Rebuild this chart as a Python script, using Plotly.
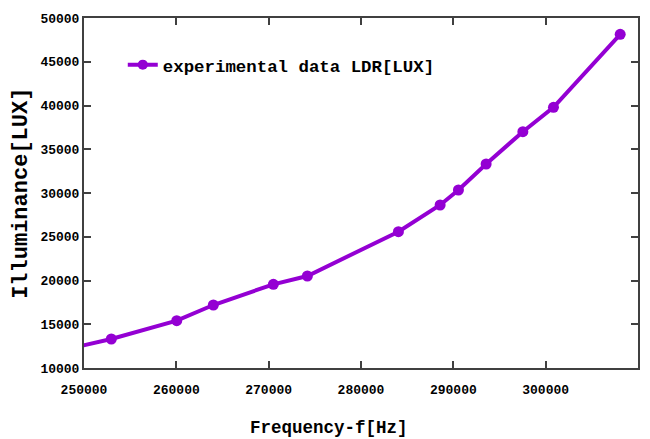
import plotly.graph_objects as go

freq = [247000, 252958, 260043, 264009, 270509, 274193, 284052, 288570, 290553, 293554, 297530, 300845, 308072]
lux = [11880, 13314, 15406, 17200, 19566, 20514, 25577, 28629, 30343, 33314, 37006, 39794, 48137]
marker_visible = [False] + [True] * 12

xticks = [250000, 260000, 270000, 280000, 290000, 300000, 310000]
yticks = [10000, 15000, 20000, 25000, 30000, 35000, 40000, 45000, 50000]

color = "#9400D3"
font_mono = "Liberation Mono"

fig = go.Figure()
fig.add_trace(go.Scatter(
    x=freq, y=lux, mode="lines+markers",
    name="experimental data LDR[LUX]",
    line=dict(color=color, width=4),
    marker=dict(color=color, opacity=1, line=dict(width=0),
                size=[11 if v else 0 for v in marker_visible]),
    cliponaxis=True,
))

axis_common = dict(
    showgrid=False, zeroline=False, mirror="ticks", showline=True,
    linecolor="#404040", linewidth=2, ticks="inside", ticklen=7,
    tickcolor="#404040", tickwidth=1.5, automargin=False,
    tickfont=dict(family=font_mono, size=13, color="black", weight="bold"),
)

# page body has an 8px default margin; figure sized to fit the 650x439 window
fig.update_layout(
    width=642, height=431,
    margin=dict(l=76, r=12, t=10, b=71),
    paper_bgcolor="white", plot_bgcolor="white",
    xaxis=dict(range=[250000, 310000], tickvals=xticks, ticktext=[str(v) for v in xticks],
               ticklabelstandoff=8, **axis_common),
    yaxis=dict(range=[10000, 50000], tickvals=yticks, ticktext=[str(v) for v in yticks],
               ticklabelstandoff=0, **axis_common),
    showlegend=True,
    legend=dict(x=0.07, y=0.866, xanchor="left", yanchor="middle",
                bgcolor="rgba(0,0,0,0)",
                font=dict(family=font_mono, size=17.4, color="black", weight="bold")),
    annotations=[
        dict(text="Frequency-f[Hz]", x=(321 - 76) / 554, xref="paper", y=-0.171, yref="paper",
             showarrow=False, xanchor="center", yanchor="middle",
             font=dict(family=font_mono, size=17.5, color="black", weight="bold")),
        dict(text="Illuminance[LUX]", x=-0.114, xref="paper", y=0.50, yref="paper",
             showarrow=False, textangle=-90, xanchor="center", yanchor="middle",
             font=dict(family=font_mono, size=22, color="black", weight="bold")),
    ],
)

fig.write_html("out.html")
